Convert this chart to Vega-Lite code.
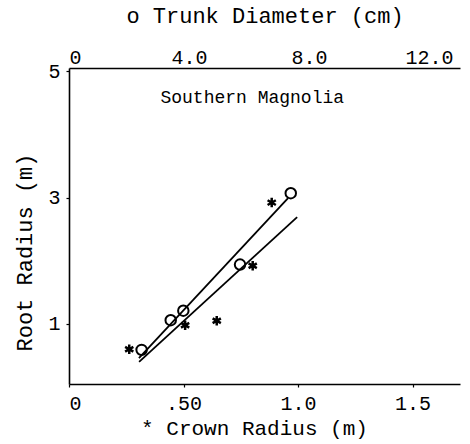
{
  "$schema": "https://vega.github.io/schema/vega-lite/v6.json",
  "width": 391,
  "height": 316,
  "autosize": {"type": "none"},
  "padding": {"left": 69, "top": 68, "right": 10, "bottom": 60},
  "background": "white",
  "config": {
    "view": {"stroke": null},
    "font": "Liberation Mono",
    "axis": {
      "domainColor": "black",
      "domainWidth": 1.6,
      "tickColor": "black",
      "tickWidth": 1.2,
      "labelColor": "black",
      "titleColor": "black",
      "labelFont": "Liberation Mono",
      "titleFont": "Liberation Mono",
      "titleFontWeight": "normal",
      "labelFontSize": 20,
      "titleFontSize": 21,
      "grid": false
    }
  },
  "datasets": {
    "trunk": [
      {"cm": 2.42, "r": 0.59},
      {"cm": 3.39, "r": 1.06},
      {"cm": 3.81, "r": 1.21},
      {"cm": 5.70, "r": 1.94},
      {"cm": 7.39, "r": 3.07}
    ],
    "trunkFit": [
      {"cm": 2.33, "r": 0.46},
      {"cm": 7.30, "r": 2.99}
    ],
    "crown": [
      {"m": 0.263, "r": 0.60},
      {"m": 0.507, "r": 0.98},
      {"m": 0.645, "r": 1.05},
      {"m": 0.802, "r": 1.92},
      {"m": 0.885, "r": 2.92}
    ],
    "crownFit": [
      {"m": 0.306, "r": 0.40},
      {"m": 0.996, "r": 2.69}
    ],
    "label": [
      {"m": 0.8, "r": 4.58, "text": "Southern Magnolia"}
    ]
  },
  "layer": [
    {
      "layer": [
        {
          "data": {"name": "trunk"},
          "mark": {"type": "point", "shape": "circle", "filled": false, "stroke": "black", "strokeWidth": 2, "size": 110, "opacity": 1},
          "encoding": {
            "x": {
              "field": "cm", "type": "quantitative",
              "scale": {"domain": [0, 13.03], "nice": false, "zero": false},
              "axis": {
                "orient": "top",
                "title": "o Trunk Diameter (cm)",
                "titleFontSize": 22,
                "values": [0, 4, 8, 12],
                "labelExpr": "datum.value == 0 ? '0' : format(datum.value, '.1f')",
                "ticks": false,
                "labelPadding": 1,
                "titlePadding": 20
              }
            },
            "y": {
              "field": "r", "type": "quantitative",
              "scale": {"domain": [0.05, 5.05], "nice": false, "zero": false},
              "axis": {
                "title": "Root Radius (m)",
                "titleFontSize": 22,
                "values": [1, 3, 5],
                "labelExpr": "format(datum.value, 'd')",
                "tickSize": 3,
                "labelPadding": 6,
                "titlePadding": 11,
                "titleY": 184
              }
            }
          }
        },
        {
          "data": {"name": "trunkFit"},
          "mark": {"type": "line", "color": "black", "strokeWidth": 1.8},
          "encoding": {
            "x": {"field": "cm", "type": "quantitative"},
            "y": {"field": "r", "type": "quantitative"}
          }
        }
      ]
    },
    {
      "layer": [
        {
          "data": {"name": "crown"},
          "mark": {"type": "point", "shape": "M0,-1V1M-0.87,-0.5L0.87,0.5M-0.87,0.5L0.87,-0.5", "filled": false, "stroke": "black", "strokeWidth": 2.5, "size": 90, "opacity": 1},
          "encoding": {
            "x": {
              "field": "m", "type": "quantitative",
              "scale": {"domain": [0, 1.707], "nice": false, "zero": false},
              "axis": {
                "orient": "bottom",
                "title": "* Crown Radius (m)",
                "values": [0, 0.5, 1, 1.5],
                "labelExpr": "datum.value == 0 ? '0' : datum.value == 0.5 ? '.50' : format(datum.value, '.1f')",
                "tickSize": 3,
                "labelPadding": 6,
                "titlePadding": 4,
                "titleX": 185
              }
            },
            "y": {"field": "r", "type": "quantitative"}
          }
        },
        {
          "data": {"name": "crownFit"},
          "mark": {"type": "line", "color": "black", "strokeWidth": 1.8},
          "encoding": {
            "x": {"field": "m", "type": "quantitative"},
            "y": {"field": "r", "type": "quantitative"}
          }
        },
        {
          "data": {"name": "label"},
          "mark": {"type": "text", "font": "Liberation Mono", "fontSize": 18, "color": "black", "baseline": "middle", "align": "center"},
          "encoding": {
            "x": {"field": "m", "type": "quantitative"},
            "y": {"field": "r", "type": "quantitative"},
            "text": {"field": "text"}
          }
        }
      ]
    }
  ],
  "resolve": {"scale": {"x": "independent"}, "axis": {"x": "independent"}}
}
